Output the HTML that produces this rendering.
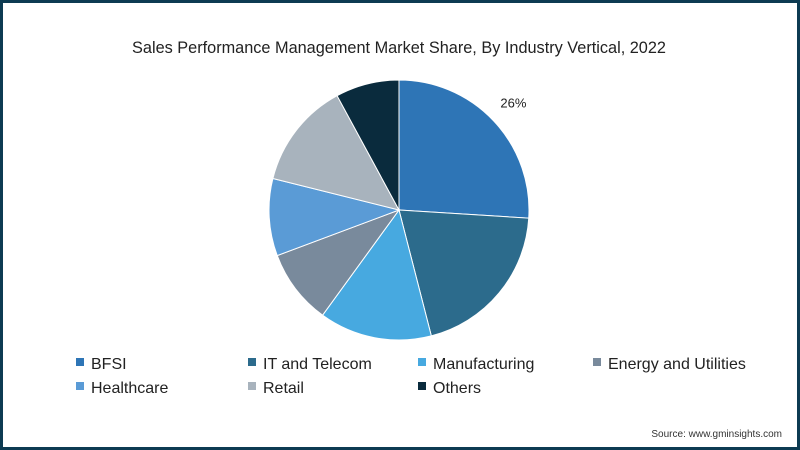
<!DOCTYPE html>
<html><head><meta charset="utf-8"><style>
body{margin:0;width:800px;height:450px;overflow:hidden;background:#fff;font-family:"Liberation Sans",sans-serif}
#frame{position:absolute;left:0;top:0;width:794px;height:444px;border:3px solid #0d3b52;background:#fff}
</style></head><body>
<div id="frame"></div>
<svg id="chart" width="800" height="450" style="position:absolute;left:0;top:0">
<text x="399" y="53" text-anchor="middle" font-size="16.3" fill="#222">Sales Performance Management Market Share, By Industry Vertical, 2022</text>
<text x="782" y="437" text-anchor="end" font-size="10" fill="#333">Source: www.gminsights.com</text>
</svg>
<script>
const categories=["BFSI","IT and Telecom","Manufacturing","Energy and Utilities","Healthcare","Retail","Others"];
const values=[26,20,14,9.3,9.6,13.2,7.9];
const colors=["#2e75b6","#2c6b8c","#47a9e0","#798a9c","#5a9bd6","#a8b3bd","#0a2b3d"];
const labels=["26%"];
const svg=document.getElementById('chart');
const NS="http://www.w3.org/2000/svg";
const cx=399,cy=210,r=130;
const total=values.reduce((a,b)=>a+b,0);
let a0=0;
function pt(a,rr){return [cx+rr*Math.sin(a),cy-rr*Math.cos(a)];}
values.forEach((v,i)=>{
  const a1=a0+v/total*2*Math.PI;
  const p0=pt(a0,r),p1=pt(a1,r);
  const path=document.createElementNS(NS,'path');
  path.setAttribute('d',`M${cx},${cy}L${p0[0]},${p0[1]}A${r},${r} 0 ${a1-a0>Math.PI?1:0} 1 ${p1[0]},${p1[1]}Z`);
  path.setAttribute('fill',colors[i]);
  path.setAttribute('stroke','#fff');
  path.setAttribute('stroke-width','1');
  
  
  svg.appendChild(path);
  if(labels[i]){
    const am=(a0+a1)/2;const lp=pt(am,157);
    const t=document.createElementNS(NS,'text');
    t.setAttribute('x',lp[0]);t.setAttribute('y',lp[1]+5);
    t.setAttribute('text-anchor','middle');
    t.setAttribute('font-size','13');t.setAttribute('fill','#222');
    t.textContent=labels[i];
    
    
    svg.appendChild(t);
  }
  a0=a1;
});
const colX=[76,248,418,593],rowY=[364,388];
categories.forEach((c,i)=>{
  const x=colX[i%4],y=rowY[Math.floor(i/4)];
  const g=document.createElementNS(NS,'g');
  
  
  const rc=document.createElementNS(NS,'rect');
  rc.setAttribute('x',x);rc.setAttribute('y',y-6);rc.setAttribute('width',8);rc.setAttribute('height',8);rc.setAttribute('fill',colors[i]);
  const t=document.createElementNS(NS,'text');
  t.setAttribute('x',x+15);t.setAttribute('y',y+5);t.setAttribute('font-size','16');t.setAttribute('fill','#222');
  t.textContent=c;
  g.appendChild(rc);g.appendChild(t);svg.appendChild(g);
});
</script>
</body></html>
